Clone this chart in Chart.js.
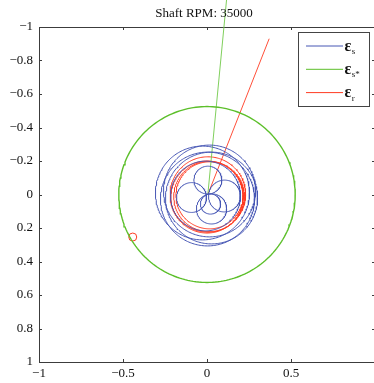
<!DOCTYPE html>
<html>
<head>
<meta charset="utf-8">
<script src="https://cdn.jsdelivr.net/npm/chart.js@4.4.1/dist/chart.umd.min.js"></script>
<style>
  html, body { margin: 0; padding: 0; background: #fff; overflow: hidden; width: 374px; height: 383px; }
  #wrap { width: 374px; height: 383px; overflow: hidden; position: relative; }
  canvas { display: block; }
</style>
</head>
<body>
<div id="wrap"><canvas id="c" width="380" height="383"></canvas></div>
<script>
// ---- chart data ----
const chartTitle = 'Shaft RPM: 35000';
const xTicks = [-1, -0.5, 0, 0.5, 1];
const yTicks = [-1, -0.8, -0.6, -0.4, -0.2, 0, 0.2, 0.4, 0.6, 0.8, 1];

// εs orbit loops: centre x, centre y, radius
const sX = [0.005, -0.092, 0.104, 0.021, 0.027, -0.027, 0.027, 0.003, 0.015, -0.009];
const sY = [-0.086, 0.018, 0.009, 0.057, 0.086, -0.009, 0.021, 0.027, -0.021, 0.009];
const sR = [0.083, 0.089, 0.095, 0.060, 0.090, 0.280, 0.274, 0.280, 0.274, 0.208];

// εs* clearance circle and its direction line
const gX = [0], gY = [0], gR = [0.525];
const gLineX = [0.005, 0.12];
const gLineY = [0.0, -1.2];

// εr orbit loops and direction line
const rX = [0.005, 0.012, 0.000, 0.015];
const rY = [0.000, 0.012, 0.015, 0.005];
const rR = [0.225, 0.210, 0.215, 0.200];
const rLineX = [0.005, 0.37];
const rLineY = [0.0, -0.93];

// εr current position marker
const markX = [-0.442];
const markY = [0.254];

// ---- styling ----
const BLUE = '#4656b4';
const GREEN = '#5cbf2a';
const RED = '#ff3b22';
const SERIF = '"Liberation Serif", "Times New Roman", serif';

function ring(cx, cy, r) {
  const pts = [];
  const n = 200;
  for (let i = 0; i <= n; i++) {
    const a = (i / n) * 2 * Math.PI;
    pts.push({ x: cx + r * Math.cos(a), y: cy + r * Math.sin(a) });
  }
  return pts;
}
function path(xs, ys) { return xs.map((x, i) => ({ x, y: ys[i] })); }
function lineSet(data, color, width, extra) {
  return Object.assign({ data, showLine: true, borderColor: color, borderWidth: width,
    pointRadius: 0, fill: false, tension: 0 }, extra || {});
}

const datasets = [];
sX.forEach((x, i) => datasets.push(lineSet(ring(x, sY[i], sR[i]), BLUE, 1)));
gX.forEach((x, i) => datasets.push(lineSet(ring(x, gY[i], gR[i]), GREEN, 1.4)));
datasets.push(lineSet(path(gLineX, gLineY), '#72c94a', 0.9, { clip: false }));
rX.forEach((x, i) => datasets.push(lineSet(ring(x, rY[i], rR[i]), RED, 1)));
datasets.push(lineSet(path(rLineX, rLineY), RED, 0.9));
datasets.push({ data: path(markX, markY), showLine: false, pointRadius: 4, pointStyle: 'circle',
  backgroundColor: 'rgba(0,0,0,0)', borderColor: RED, pointBorderWidth: 1 });

function fmt(v) {
  const s = String(parseFloat(Number(v).toFixed(2)));
  return s.replace('-', '\u2212');
}

const legendItems = [
  { color: BLUE, sub: 's' },
  { color: GREEN, sub: 's*' },
  { color: RED, sub: 'r' }
];

const framePlugin = {
  id: 'frame',
  beforeDatasetsDraw(chart) {
    const { ctx, chartArea: a, scales } = chart;
    ctx.save();
    ctx.strokeStyle = '#3c3c3c';
    ctx.lineWidth = 1;
    ctx.strokeRect(a.left + 0.5, a.top + 0.5, a.right - a.left, a.bottom - a.top);
    ctx.beginPath();
    xTicks.forEach(v => {
      const px = Math.round(scales.x.getPixelForValue(v)) + 0.5;
      ctx.moveTo(px, a.bottom); ctx.lineTo(px, a.bottom - 3);
      ctx.moveTo(px, a.top); ctx.lineTo(px, a.top + 3);
    });
    yTicks.forEach(v => {
      const py = Math.round(scales.y.getPixelForValue(v)) + 0.5;
      ctx.moveTo(a.left, py); ctx.lineTo(a.left + 3, py);
      ctx.moveTo(a.right, py); ctx.lineTo(a.right - 3, py);
    });
    ctx.stroke();
    ctx.restore();
  },
  afterDraw(chart) {
    const { ctx } = chart;
    ctx.save();
    // title
    ctx.fillStyle = '#111';
    ctx.font = '13px ' + SERIF;
    ctx.textAlign = 'center';
    ctx.textBaseline = 'alphabetic';
    ctx.fillText(chartTitle, 204, 16.5);
    // legend
    const bx = 298.5, by = 32.5, bw = 71, bh = 74;
    ctx.fillStyle = '#fff';
    ctx.fillRect(bx, by, bw, bh);
    ctx.strokeStyle = '#444';
    ctx.lineWidth = 1;
    ctx.strokeRect(bx, by, bw, bh);
    ctx.textAlign = 'left';
    legendItems.forEach((it, i) => {
      const y = 46 + i * 23.3;
      ctx.strokeStyle = it.color;
      ctx.lineWidth = 1;
      ctx.beginPath();
      ctx.moveTo(306, y); ctx.lineTo(343, y);
      ctx.stroke();
      ctx.fillStyle = '#111';
      ctx.font = 'bold 16px ' + SERIF;
      ctx.fillText('\u03b5', 344.5, y + 4.5);
      const w = ctx.measureText('\u03b5').width;
      ctx.font = '9px ' + SERIF;
      ctx.fillText(it.sub, 344.5 + w + 0.5, y + 8);
    });
    ctx.restore();
  }
};

const tickFont = { family: SERIF, size: 13 };

new Chart(document.getElementById('c'), {
  type: 'scatter',
  data: { datasets },
  options: {
    responsive: false,
    animation: false,
    events: [],
    devicePixelRatio: 1,
    layout: { padding: { top: 27, right: 5, left: 0, bottom: 0 } },
    plugins: { legend: { display: false }, tooltip: { enabled: false }, title: { display: false } },
    scales: {
      x: {
        type: 'linear', min: -1, max: 1, position: 'bottom',
        afterBuildTicks: s => { s.ticks = xTicks.map(v => ({ value: v })); },
        afterFit: s => { s.height = 21; },
        grid: { display: false, drawTicks: false },
        border: { display: false },
        ticks: { padding: 4, color: '#111', font: tickFont, autoSkip: false, maxRotation: 0,
          callback: v => (v === 1 ? '' : fmt(v)) }
      },
      y: {
        type: 'linear', min: -1, max: 1, reverse: true,
        afterBuildTicks: s => { s.ticks = yTicks.map(v => ({ value: v })); },
        afterFit: s => { s.width = 39; },
        grid: { display: false, drawTicks: false },
        border: { display: false },
        ticks: { padding: 6, color: '#111', font: tickFont, autoSkip: false,
          callback: v => fmt(v) }
      }
    }
  },
  plugins: [framePlugin]
});
</script>
</body>
</html>
